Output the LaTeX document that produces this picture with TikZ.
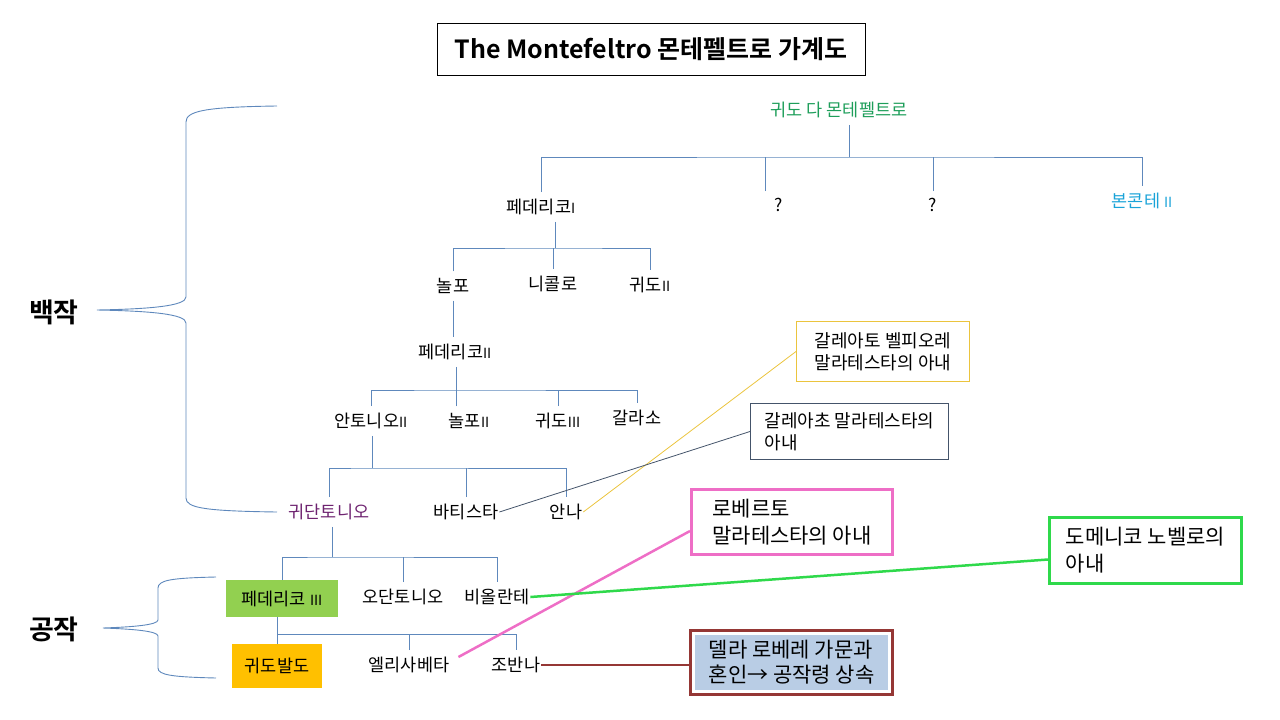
\documentclass[tikz,border=0pt]{standalone}
\usepackage{fontspec}
\setmainfont{Noto Sans CJK KR}
\newfontfamily\krbold{Noto Sans CJK KR Bold}
\usetikzlibrary{positioning,calc}
\definecolor{treeblue}{HTML}{5E88BC}
\definecolor{leafgreen}{HTML}{1E9E5A}
\definecolor{skyblue}{HTML}{1AA3D8}
\definecolor{plum}{HTML}{6E2370}
\definecolor{goldline}{HTML}{EBC43E}
\definecolor{slate}{HTML}{44546A}
\definecolor{rosepink}{HTML}{EE6EC6}
\definecolor{limegreen}{HTML}{2FD94B}
\definecolor{brownred}{HTML}{953735}
\definecolor{paleblue}{HTML}{B9CDE5}
\definecolor{fedgreen}{HTML}{92D050}
\definecolor{amber}{HTML}{FFC000}
\newcommand{\rnum}[1]{{\fontsize{14}{14}\selectfont #1}}

\begin{document}
\begin{tikzpicture}[
  x=1pt, y=-1pt,
  person/.style={font=\fontsize{17.5}{20}\selectfont, inner sep=1pt, outer ysep=6pt},
  tree/.style={draw=treeblue, line width=0.9pt},
  bracket/.style={draw=treeblue, line width=0.9pt},
  rank/.style={font=\krbold\fontsize{27}{30}\selectfont},
  titlebox/.style={draw=black, line width=1pt, minimum width=428pt, minimum height=52pt, font=\krbold\fontsize{25}{28}\selectfont},
  famebox/.style={minimum height=37pt, font=\fontsize{17.5}{20}\selectfont},
  note/.style={rectangle, anchor=north west, align=left, inner xsep=4pt},
  smallnote/.style={note, line width=1pt, font=\fontsize{18}{22}\selectfont},
  bignote/.style={note, line width=3pt, font=\fontsize{21}{27}\selectfont},
]
\useasboundingbox (0,0) rectangle (1280,720);

% title
\node[titlebox] (title) at (651,49) {The Montefeltro 몬테펠트로 가계도};

% counts and dukes
\node[rank] (counts) at (54,312) {백작};
\node[rank] (dukes) at (54,629) {공작};
\draw[bracket] (277,106) .. controls (205,107) and (186,111) .. (186,122) -- (186,297)
  .. controls (186,306) and (150,309) .. (97,310)
  .. controls (150,311) and (186,314) .. (186,323) -- (186,498)
  .. controls (186,508) and (205,511) .. (277,512);
\draw[bracket] (216,577) .. controls (172,578) and (158,580) .. (158,588) -- (158,620)
  .. controls (158,625) and (132,627) .. (103,628)
  .. controls (132,629) and (158,631) .. (158,636) -- (158,668)
  .. controls (158,675) and (172,677) .. (216,678);

% family tree
\node[person, text=leafgreen] (guido) at (839,110) {귀도 다 몬테펠트로};
\node[person] (fed1) at (541,207) {페데리코\rnum{I}};
\node[person] (unk1) at (779,205) {?};
\node[person] (unk2) at (933,205) {?};
\node[person, text=skyblue] (bon) at (1142,201) {본콘테 \rnum{II}};
\node[person] (nolfo) at (453,286) {놀포};
\node[person] (nicolo) at (553,284) {니콜로};
\node[person] (guido2) at (650,285) {귀도\rnum{II}};
\node[person] (fed2) at (455,352) {페데리코\rnum{II}};
\node[person] (ant2) at (371,421) {안토니오\rnum{II}};
\node[person] (nolfo2) at (469,421) {놀포\rnum{II}};
\node[person] (guido3) at (558,421) {귀도\rnum{III}};
\node[person] (galasso) at (637,418) {갈라소};
\node[person, text=plum] (guid) at (329,512) {귀단토니오};
\node[person] (bat) at (466,512) {바티스타};
\node[person] (anna) at (566,512) {안나};
\node[famebox, fill=fedgreen, minimum width=112pt] (fed3) at (282,598.5) {페데리코 \rnum{III}};
\node[person] (odd) at (403,597) {오단토니오};
\node[person] (viol) at (497,597) {비올란테};
\node[famebox, fill=amber, minimum width=90pt, minimum height=44pt] (guidob) at (277,666) {귀도발도};
\node[person] (elisa) at (409,665) {엘리사베타};
\node[person] (jovanna) at (516,665) {조반나};

\coordinate (busA) at (849,157);
\coordinate (unk1top) at ([xshift=-14pt]unk1.north);
\draw[tree] (guido.south -| busA) -- (busA);
\draw[tree] (fed1.north) |- (busA) -| (bon.north);
\draw[tree] (unk1top) -- (unk1top |- busA);
\draw[tree] (unk2.north) -- (unk2.north |- busA);

\coordinate (busB) at (555,248);
\draw[tree] (fed1.south -| busB) -- (busB);
\draw[tree] (nolfo.north) |- (busB) -| (guido2.north);
\draw[tree] (nicolo.north) -- (nicolo.north |- busB);

\draw[tree] (nolfo.south) -- (nolfo.south |- fed2.north);

\coordinate (busC) at (456,390);
\coordinate (nolfo2top) at ([xshift=-13pt]nolfo2.north);
\draw[tree] (fed2.south -| busC) -- (busC);
\draw[tree] (ant2.north) |- (busC) -| (galasso.north);
\draw[tree] (nolfo2top) -- (nolfo2top |- busC);
\draw[tree] (guido3.north) -- (guido3.north |- busC);

\coordinate (busD) at (372,468);
\draw[tree] (ant2.south -| busD) -- (busD);
\draw[tree] (guid.north) |- (busD) -| (anna.north);
\draw[tree] (bat.north) -- (bat.north |- busD);

\coordinate (busE) at (332,557);
\draw[tree] (guid.south -| busE) -- (busE);
\draw[tree] (fed3.north) |- (busE) -| (viol.north);
\draw[tree] (odd.north) -- (odd.north |- busE);

\coordinate (busF) at (277,634);
\draw[tree] (fed3.south -| busF) -- (busF);
\draw[tree] (guidob.north) |- (busF) -| (jovanna.north);
\draw[tree] (elisa.north) -- (elisa.north |- busF);

% marriages
\node[smallnote, draw=goldline, minimum width=173pt, minimum height=60pt] (galeotto) at (796,321) {갈레아토 벨피오레\\말라테스타의 아내};
\node[smallnote, draw=slate, minimum width=198pt, minimum height=56pt] (galeazzo) at (750,403) {갈레아초 말라테스타의\\아내};
\node[bignote, draw=rosepink, minimum width=201pt, minimum height=65pt] (roberto) at (690,488) {로베르토\\말라테스타의 아내};
\node[bignote, draw=limegreen, minimum width=192pt, minimum height=66pt] (domenico) at (1048,516) {도메니코 노벨로의\\아내};
\node[note, fill=paleblue, draw=white, line width=3pt, preaction={draw=brownred, line width=9pt},
  minimum width=196pt, minimum height=58pt, font=\fontsize{21}{25}\selectfont] (rovere) at (692,632) {델라 로베레 가문과\\혼인→ 공작령 상속};

\draw[goldline, line width=0.8pt] (anna.east) -- (galeotto.west);
\draw[slate, line width=0.8pt] (bat.east) -- (galeazzo.west);
\draw[rosepink, line width=2.5pt] ([xshift=8pt,yshift=8pt]elisa.east) -- ([yshift=-9pt]roberto.west);
\draw[limegreen, line width=2.5pt] (viol.east) -- ([yshift=-9pt]domenico.west);
\draw[brownred, line width=2pt] (jovanna.east) -- (jovanna.east -| rovere.west);
\end{tikzpicture}
\end{document}
